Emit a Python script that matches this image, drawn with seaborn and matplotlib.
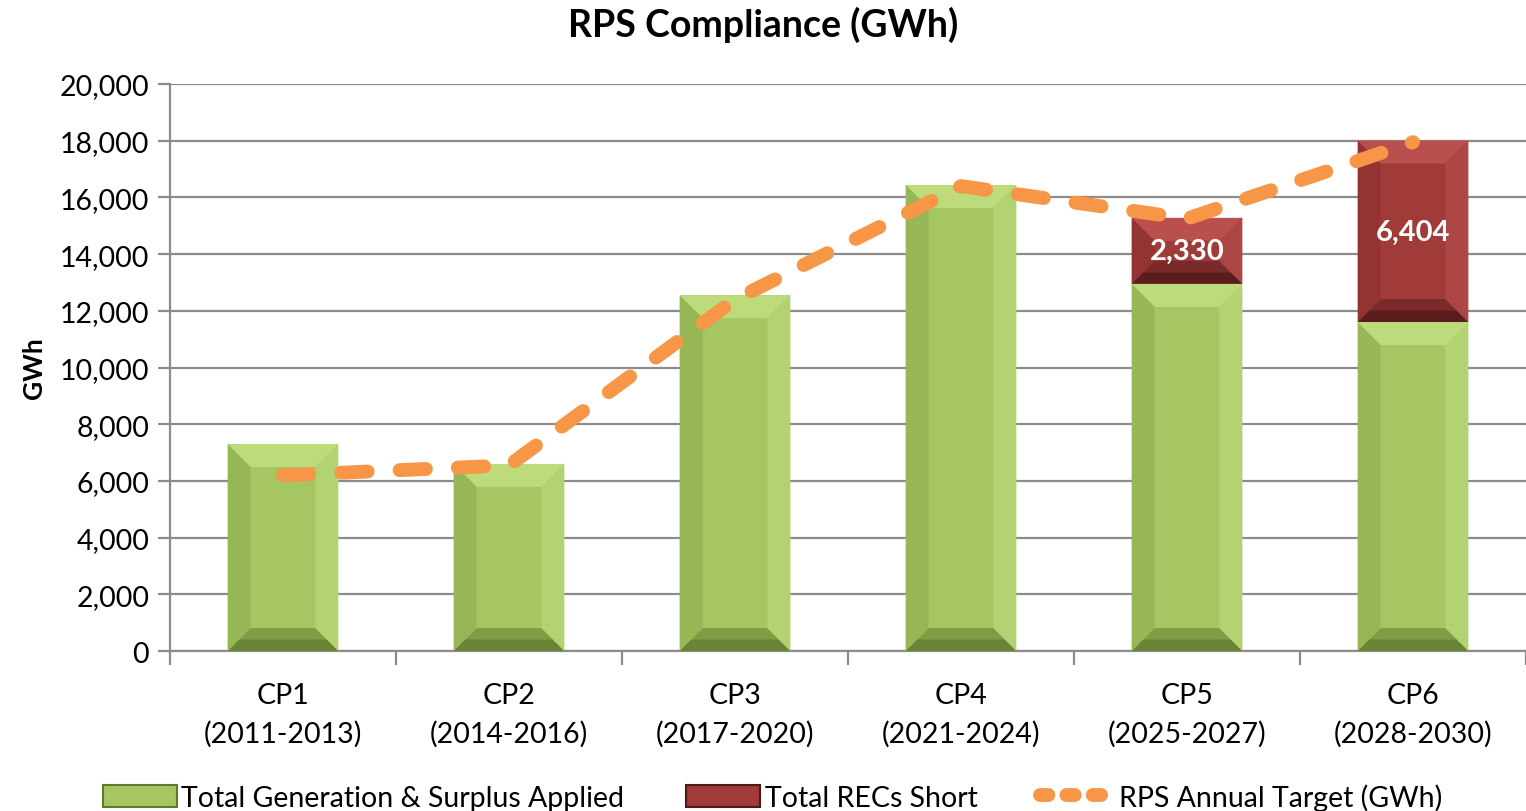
import matplotlib
matplotlib.use("Agg")
import matplotlib.pyplot as plt
from matplotlib.lines import Line2D
from matplotlib.patches import Patch
import numpy as np
import pandas as pd
import seaborn as sns

categories = ["CP1\n(2011-2013)", "CP2\n(2014-2016)", "CP3\n(2017-2020)",
              "CP4\n(2021-2024)", "CP5\n(2025-2027)", "CP6\n(2028-2030)"]
generation = [7300, 6600, 12550, 16440, 12950, 11600]
recs_short = [0, 0, 0, 0, 2330, 6404]
target = [6200, 6550, 12400, 16400, 15250, 17950]

GREEN = {"mid": "#A6C664", "top": "#BEDB7C", "bot": "#7F9D45", "bot2": "#5F7A2E",
         "left": "#97B656", "right": "#B3D271"}
RED = {"mid": "#A03B39", "top": "#B9504E", "bot": "#7A2A29", "bot2": "#4F1817",
       "left": "#933432", "right": "#AD4745"}
ORANGE = "#F79646"

df = pd.DataFrame({"cp": categories, "gen": generation, "short": recs_short, "target": target})
df["total"] = df["gen"] + df["short"]

sns.set_theme(style="white")
plt.rcParams["font.family"] = ["Lato", "DejaVu Sans"]
plt.rcParams["text.color"] = "black"
plt.rcParams["xtick.color"] = "black"
plt.rcParams["ytick.color"] = "black"
plt.rcParams["axes.labelcolor"] = "black"

fig = plt.figure(figsize=(15.26, 8.12), dpi=100)
ax = fig.add_axes([0.1114, 0.197, 0.8886, 0.6983])

# totals (red) first, green drawn over them
sns.barplot(data=df, x="cp", y="total", color=RED["mid"], width=0.49, saturation=1,
            edgecolor="none", ax=ax, zorder=2)
n = len(df)
sns.barplot(data=df, x="cp", y="gen", color=GREEN["mid"], width=0.49, saturation=1,
            edgecolor="none", ax=ax, zorder=3)
red_bars = ax.patches[:n]
green_bars = ax.patches[n:2 * n]

ax.set_ylim(0, 20000)
ax.set_xlim(-0.5, n - 0.5)

# pixel -> data scale for bevel size
bev_px = 23
px_per_x = ax.get_window_extent().width / n
px_per_y = ax.get_window_extent().height / 20000


def bevel(x0, y0, w, h, pal, z):
    dx = bev_px / px_per_x
    dy = min(bev_px / px_per_y, h / 2.2)
    x1, y1 = x0 + w, y0 + h
    xi0, xi1, yi0, yi1 = x0 + dx, x1 - dx, y0 + dy, y1 - dy
    ax.fill([x0, x1, xi1, xi0], [y1, y1, yi1, yi1], color=pal["top"], lw=0, zorder=z)
    ax.fill([x0, x1, xi1, xi0], [y0, y0, yi0, yi0], color=pal["bot"], lw=0, zorder=z)
    # darker outer half of the bottom face
    hx, hy = dx / 2, dy / 2
    ax.fill([x0, x1, x1 - hx, x0 + hx], [y0, y0, y0 + hy, y0 + hy], color=pal["bot2"],
            alpha=0.7, lw=0, zorder=z)
    ax.fill([x0, xi0, xi0, x0], [y0, yi0, yi1, y1], color=pal["left"], lw=0, zorder=z)
    ax.fill([x1, xi1, xi1, x1], [y0, yi0, yi1, y1], color=pal["right"], lw=0, zorder=z)


for gb, rb, s in zip(green_bars, red_bars, df["short"]):
    bevel(gb.get_x(), 0, gb.get_width(), gb.get_height(), GREEN, 3.5)
    if s > 0:
        bevel(rb.get_x(), gb.get_height(), rb.get_width(), rb.get_height() - gb.get_height(), RED, 2.5)
        ax.text(rb.get_x() + rb.get_width() / 2, gb.get_height() + s / 2, f"{s:,}",
                ha="center", va="center", color="white", fontsize=21, fontweight="bold", zorder=6)

sns.lineplot(x=np.arange(n), y=df["target"], color=ORANGE, lw=10, ax=ax, zorder=5,
             dashes=False)
line = ax.lines[-1]
line.set_dashes((1.9, 2.3))
line.set_dash_capstyle("round")
line.set_solid_capstyle("round")

# axes styling
ax.yaxis.grid(True, color="#8C8C8C", lw=1.6, zorder=0)
ax.set_axisbelow(True)
for sp in ["top", "right"]:
    ax.spines[sp].set_visible(False)
for sp in ["left", "bottom"]:
    ax.spines[sp].set_color("#8C8C8C")
    ax.spines[sp].set_linewidth(1.6)
ax.set_yticks(np.arange(0, 20001, 2000))
ax.set_yticklabels([f"{v:,}" for v in range(0, 20001, 2000)], fontsize=20.5)
ax.tick_params(axis="y", which="major", length=9, width=1.6, color="#8C8C8C", left=True, pad=6)
ax.set_xticks(np.arange(n))
ax.set_xticklabels(categories, fontsize=20.5, linespacing=1.55)
ax.tick_params(axis="x", which="major", length=0, pad=22)
ax.set_xticks(np.arange(-0.5, n, 1), minor=True)
ax.tick_params(axis="x", which="minor", length=10, width=1.6, color="#8C8C8C", bottom=True)
ax.set_xlabel("")
ax.set_ylabel("GWh", fontsize=19, fontweight="bold", labelpad=10)
fig.text(0.5, 1 - 25 / 812, "RPS Compliance (GWh)", ha="center", va="center",
         fontsize=27, fontweight="bold")

handles = [Patch(facecolor=GREEN["mid"], edgecolor=GREEN["bot2"], lw=1.5),
           Patch(facecolor=RED["mid"], edgecolor=RED["bot2"], lw=1.5),
           Line2D([0], [0], color=ORANGE, lw=10, dashes=(0.6, 1.3), dash_capstyle="round")]
labels = ["Total Generation & Surplus Applied", "Total RECs Short", "RPS Annual Target (GWh)"]
fig.legend(handles, labels, loc="lower center", bbox_to_anchor=(0.506, -0.031), ncol=3,
           frameon=False, fontsize=20.5, handlelength=2.6, handleheight=0.8,
           columnspacing=2.2, handletextpad=0.15)

fig.savefig("out.png", dpi=100)
